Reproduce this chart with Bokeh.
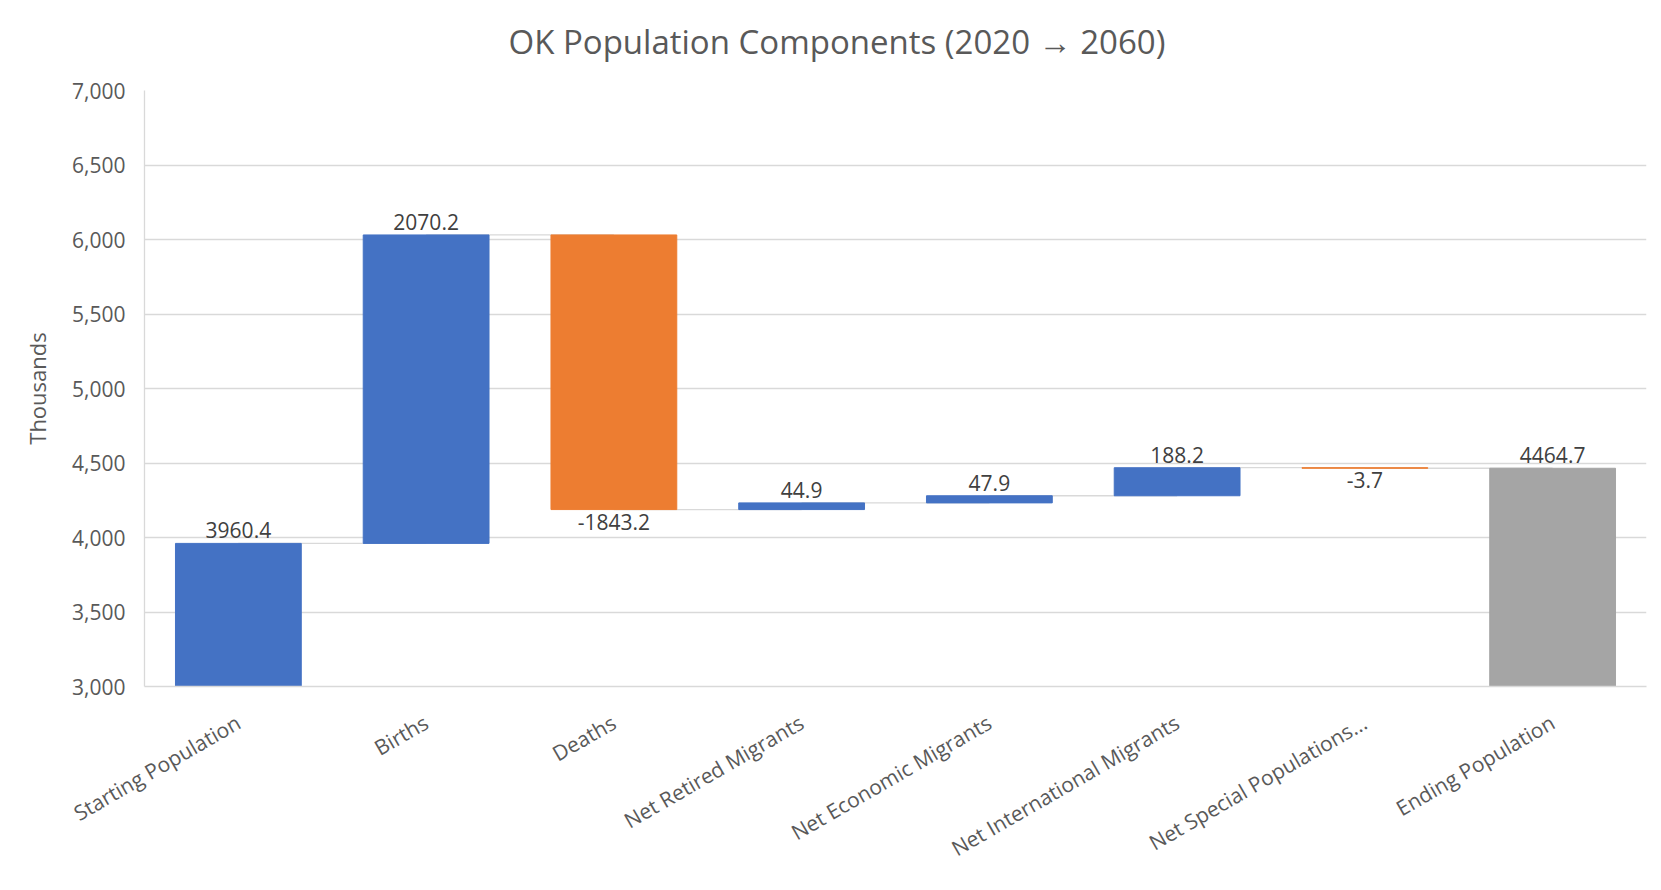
import math
from bokeh.plotting import figure
from bokeh.models import (FactorRange, Range1d, FixedTicker, NumeralTickFormatter,
                          ColumnDataSource, Title)
from bokeh.core.properties import value
from bokeh.embed import file_html
from bokeh.resources import INLINE

# ---------------- data ----------------
categories = ["Starting Population", "Births", "Deaths", "Net Retired Migrants",
              "Net Economic Migrants", "Net International Migrants",
              "Net Special Populations...", "Ending Population"]
changes = [3960.4, 2070.2, -1843.2, 44.9, 47.9, 188.2, -3.7, 4464.7]
kinds = ["increase", "increase", "decrease", "increase", "increase", "increase",
         "decrease", "total"]
y_ticks = [3000, 3500, 4000, 4500, 5000, 5500, 6000, 6500, 7000]
title_text = "OK Population Components (2020 \u2192 2060)"
y_label = "Thousands"

kind_colors = {"increase": "#4472C4", "decrease": "#ED7D31", "total": "#A5A5A5"}

# ---------------- waterfall geometry from the data ----------------
bottoms, tops, levels, label_y, label_pos = [], [], [], [], []
running = 0.0
for v, k in zip(changes, kinds):
    if k == "total":
        b, t = 0.0, v
        running = v
    else:
        b = running
        running = running + v
        t = running
    bottoms.append(b)
    tops.append(t)
    levels.append(running)
    if v >= 0:
        label_y.append(max(b, t))
        label_pos.append("above")
    else:
        label_y.append(min(b, t))
        label_pos.append("below")

colors = [kind_colors[k] for k in kinds]
labels = ["{:.1f}".format(v) for v in changes]

bars = ColumnDataSource(dict(cat=categories, bottom=bottoms, top=tops, color=colors))
conn = ColumnDataSource(dict(x0=categories[:-1], x1=categories[1:], y=levels[:-1]))
above = ColumnDataSource(dict(
    cat=[c for c, p_ in zip(categories, label_pos) if p_ == "above"],
    y=[y for y, p_ in zip(label_y, label_pos) if p_ == "above"],
    text=[t for t, p_ in zip(labels, label_pos) if p_ == "above"]))
below = ColumnDataSource(dict(
    cat=[c for c, p_ in zip(categories, label_pos) if p_ == "below"],
    y=[y for y, p_ in zip(label_y, label_pos) if p_ == "below"],
    text=[t for t, p_ in zip(labels, label_pos) if p_ == "below"]))

FONT = "Open Sans"
TXT = "#595959"
GRID = "#D9D9D9"

p = figure(x_range=FactorRange(*categories), y_range=Range1d(y_ticks[0], y_ticks[-1]),
           width=1653, height=882, output_backend="svg", toolbar_location=None,
           min_border_left=144, min_border_right=7, min_border_top=90,
           min_border_bottom=196, title=title_text)
p.outline_line_color = None
p.background_fill_color = "white"
p.border_fill_color = "white"

p.title.align = "left"
p.title.offset = 364
p.title.standoff = 0
p.title.text_font = FONT
p.title.text_font_size = "33px"
p.title.text_font_style = "normal"
p.title.text_color = TXT

# invisible spacer between the title and the plot frame
spacer = Title(text=" ", text_font_size="1px", standoff=24, text_color="white")
p.add_layout(spacer, "above")

# connectors (drawn before bars so they hide under them)
p.segment(x0="x0", x1="x1", y0="y", y1="y", source=conn, line_color=GRID, line_width=1.3)

p.vbar(x="cat", bottom="bottom", top="top", width=0.67, source=bars,
       fill_color="color", line_color="color", line_width=1)

p.text(x="cat", y="y", text="text", source=above, text_align="center",
       text_baseline="bottom", y_offset=-5, text_font=value(FONT),
       text_font_size="21px", text_color="#404040")
p.text(x="cat", y="y", text="text", source=below, text_align="center",
       text_baseline="top", y_offset=4, text_font=value(FONT),
       text_font_size="21px", text_color="#404040")

# axes
p.yaxis.ticker = FixedTicker(ticks=y_ticks)
p.yaxis.formatter = NumeralTickFormatter(format="0,0")
p.yaxis.axis_label = y_label
p.yaxis.axis_label_text_font = FONT
p.yaxis.axis_label_text_font_size = "22px"
p.yaxis.axis_label_text_font_style = "normal"
p.yaxis.axis_label_text_color = TXT
p.yaxis.axis_label_standoff = 17
p.yaxis.major_label_standoff = 13
for ax in (p.xaxis, p.yaxis):
    ax.major_label_text_font = FONT
    ax.major_label_text_font_size = "21px"
    ax.major_label_text_color = TXT
    ax.major_tick_line_color = None
    ax.minor_tick_line_color = None
    ax.axis_line_color = GRID
    ax.axis_line_width = 1.3

p.xaxis.major_label_orientation = math.pi / 6
p.xaxis.major_label_standoff = 28
p.xgrid.grid_line_color = None
p.ygrid.grid_line_color = GRID
p.ygrid.grid_line_width = 1.3

open("out.html", "w").write(file_html(p, INLINE))
